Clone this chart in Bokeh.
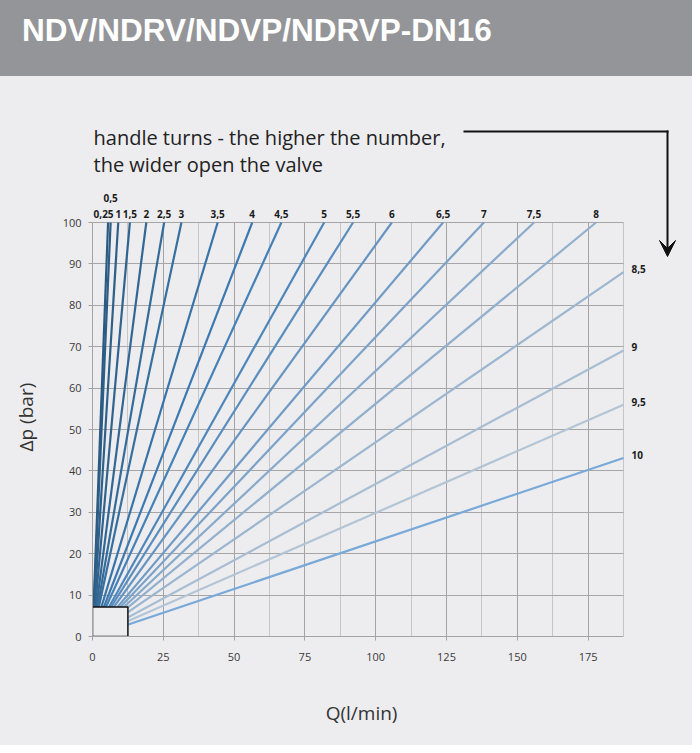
from bokeh.plotting import figure
from bokeh.models import (Range1d, LabelSet, Label, ColumnDataSource, Arrow,
                          VeeHead, SingleIntervalTicker, FixedTicker, LinearAxis, Div)
from bokeh.layouts import column
from bokeh.embed import file_html
from bokeh.resources import INLINE
from bokeh.core.properties import value

# ---------------- data ----------------
title_text = "NDV/NDRV/NDVP/NDRVP-DN16"
note_lines = ["handle turns - the higher the number,", "the wider open the valve"]
x_title = "Q(l/min)"
y_title = "Δp (bar)"
turn_labels = ["0,25", "0,5", "1", "1,5", "2", "2,5", "3", "3,5", "4", "4,5",
               "5", "5,5", "6", "6,5", "7", "7,5", "8", "8,5", "9", "9,5", "10"]
# end point of each straight characteristic line (start at the origin)
q_end = [5.5, 6.4, 9.1, 13.2, 19.0, 25.3, 31.4, 44.2, 56.4, 66.7, 81.8, 92.0,
         105.7, 123.8, 138.2, 155.9, 177.8, 187.5, 187.5, 187.5, 187.5]
dp_end = [100, 100, 100, 100, 100, 100, 100, 100, 100, 100, 100, 100,
          100, 100, 100, 100, 100, 88.0, 69.1, 56.0, 43.1]
q_max = 187.5
dp_max = 100
x_tick_step = 25
y_tick_step = 10
box_q = 12.5
box_dp = 7.1

# ---------------- styles / layout ----------------
palette = ["#2b5a80", "#2d5d85", "#2f6089", "#31638e", "#336793", "#356b99",
           "#376f9f", "#3a74a7", "#3d78ae", "#4580b6", "#4f86ba", "#5a8dbd",
           "#6594c1", "#719bc4", "#7ca2c7", "#87a9ca", "#92afcc", "#9db6cf",
           "#a8bdd2", "#b3c4d5", "#78a9d9"]
BG = "#ededf0"
HEADER = "#949599"
FONT = "Open Sans"
GRID = "#a3a3a3"
INK = "#1a1a1a"

W = 692
HEADER_H = 76
MAIN_H = 745 - HEADER_H
CHART_W = 531          # pixels spanned by 0..q_max
CHART_H = 414          # pixels spanned by 0..dp_max
CHART_LEFT = 92        # page x of Q = 0
CHART_TOP = 222        # page y of dp = dp_max
CHART_BOTTOM = 636     # page y of dp = 0
FRAME_TOP = 90
px_x = CHART_W / q_max
px_y = CHART_H / dp_max

x_stop = (W - CHART_LEFT) / px_x
y_stop = dp_max + (CHART_TOP - FRAME_TOP) / px_y

# ---------------- header ----------------
header = Div(text=title_text, width=W, height=HEADER_H,
             styles={"background-color": HEADER, "color": "white",
                     "font-family": "Liberation Sans", "font-weight": "bold",
                     "font-size": "31.5px", "line-height": "normal",
                     "padding": "12px 0 0 22px", "box-sizing": "border-box",
                     "margin": "0", "white-space": "nowrap"})

# ---------------- main chart ----------------
p = figure(width=W, height=MAIN_H, x_range=Range1d(0, x_stop), y_range=Range1d(0, y_stop),
           toolbar_location=None, output_backend="svg",
           min_border_left=CHART_LEFT, min_border_right=0,
           min_border_top=FRAME_TOP - HEADER_H, min_border_bottom=MAIN_H - (CHART_BOTTOM - HEADER_H))
p.styles = {"background-color": BG}
p.background_fill_color = BG
p.border_fill_color = BG
p.outline_line_color = None

xt = SingleIntervalTicker(interval=x_tick_step, num_minor_ticks=2)
yt = SingleIntervalTicker(interval=y_tick_step, num_minor_ticks=0)
p.xaxis.ticker = xt
p.yaxis.ticker = yt
p.xgrid.ticker = xt
p.ygrid.ticker = yt
p.xaxis.bounds = (0, q_max)
p.yaxis.bounds = (0, dp_max)
p.xgrid.bounds = (0, q_max)
p.ygrid.bounds = (0, dp_max)
p.xgrid.cross_bounds = (0, dp_max)
p.ygrid.cross_bounds = (0, q_max)
p.xgrid.grid_line_color = GRID
p.xgrid.minor_grid_line_color = "#c6c6c8"
p.ygrid.grid_line_color = "#a6a6a6"

for ax in (p.xaxis, p.yaxis):
    ax.axis_line_color = GRID
    ax.major_tick_line_color = GRID
    ax.major_tick_out = 4
    ax.major_tick_in = 0
    ax.minor_tick_line_color = None
    ax.major_label_text_font = FONT
    ax.major_label_text_font_size = "11px"
    ax.major_label_text_color = "#3a3a3a"
p.xaxis.major_label_standoff = 12
p.yaxis.major_label_standoff = 7


def title_axis(pos, text, orientation, standoff):
    ax = LinearAxis(ticker=FixedTicker(ticks=[pos]), major_label_overrides={pos: text},
                    axis_line_color=None, major_tick_line_color=None,
                    minor_tick_line_color=None, major_label_standoff=standoff,
                    major_label_orientation=orientation,
                    major_label_text_font=FONT, major_label_text_font_size="19px",
                    major_label_text_color="#333333")
    return ax


# axis titles, centred where the reference has them
p.add_layout(title_axis(95, x_title, "horizontal", 30), "below")
p.add_layout(title_axis(53, y_title, "vertical", 14), "left")

# characteristic lines
xs = [[0, q] for q in q_end]
ys = [[0, d] for d in dp_end]
p.multi_line(xs=xs, ys=ys, line_color=palette, line_width=2.2)

# box covering the origin
p.quad(left=[0], right=[box_q], bottom=[0], top=[box_dp],
       fill_color=BG, line_color="#111111", line_width=1.5)

# labels at the top edge
n_top = sum(1 for d in dp_end if d >= dp_max)
top_x_off = [0] * n_top
top_y_off = [9] * n_top
top_x_off[0] = -4.5
top_y_off[1] = 25
top_src = ColumnDataSource(dict(x=q_end[:n_top], y=dp_end[:n_top], text=turn_labels[:n_top],
                                xo=top_x_off, yo=top_y_off))
p.add_layout(LabelSet(x="x", y="y", text="text", source=top_src, x_offset="xo", y_offset="yo",
                      text_align="center", text_baseline="middle",
                      text_font=value(FONT), text_font_style="bold",
                      text_font_size="10px", text_color=INK))

# labels at the right edge
right_src = ColumnDataSource(dict(x=q_end[n_top:], y=dp_end[n_top:], text=turn_labels[n_top:]))
p.add_layout(LabelSet(x="x", y="y", text="text", source=right_src, x_offset=8, y_offset=3,
                      text_align="left", text_baseline="middle",
                      text_font=value(FONT), text_font_style="bold",
                      text_font_size="10px", text_color=INK))

# explanatory note and arrow
note_x = 1 / px_x
p.add_layout(Label(x=note_x, y=dp_max + (CHART_TOP - 137) / px_y, text=note_lines[0],
                   text_font=FONT, text_font_size="20px", text_color="#222222",
                   text_baseline="alphabetic"))
p.add_layout(Label(x=note_x, y=dp_max + (CHART_TOP - 164) / px_y, text=note_lines[1],
                   text_font=FONT, text_font_size="20px", text_color="#222222",
                   text_baseline="alphabetic"))
arrow_y = dp_max + (CHART_TOP - 131) / px_y
arrow_x = (667 - CHART_LEFT) / px_x
p.add_layout(Arrow(x_start=(463 - CHART_LEFT) / px_x, y_start=arrow_y,
                   x_end=arrow_x + 1 / px_x, y_end=arrow_y, end=None,
                   line_color="#111111", line_width=2))
p.add_layout(Arrow(x_start=arrow_x, y_start=arrow_y + 1 / px_y, x_end=arrow_x,
                   y_end=dp_max - (256 - CHART_TOP) / px_y,
                   end=VeeHead(size=16, fill_color="#111111", line_color="#111111", line_width=1),
                   line_color="#111111", line_width=2))

layout = column(header, p, spacing=0)
open("out.html", "w").write(file_html(layout, INLINE))
